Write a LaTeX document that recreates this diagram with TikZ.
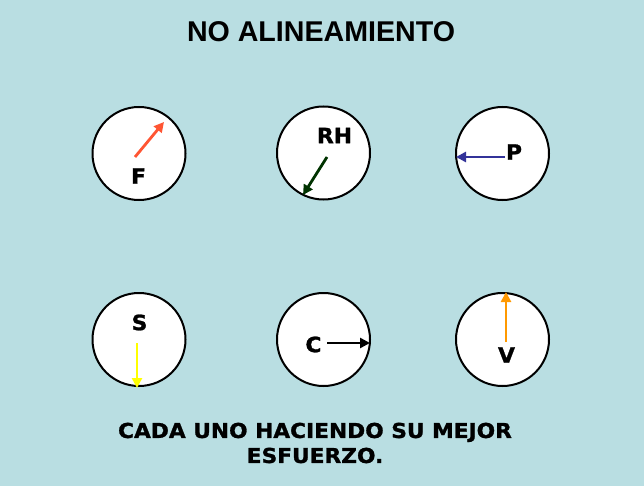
\documentclass[tikz,border=0pt]{standalone}
\usepackage{fontspec}
\setmainfont{DejaVu Sans}[BoldFeatures={FakeBold=1.2}]
\newfontfamily\titlefont{Liberation Sans}
\usetikzlibrary{arrows.meta}
\definecolor{bg}{RGB}{185,222,226}
\definecolor{cF}{RGB}{255,85,51}
\definecolor{cRH}{RGB}{0,51,0}
\definecolor{cP}{RGB}{51,51,153}
\definecolor{cS}{RGB}{255,255,0}
\definecolor{cV}{RGB}{255,153,0}
\begin{document}
\begin{tikzpicture}[x=1pt,y=-1pt,
  ring/.style={circle,draw=black,fill=white,line width=2pt,minimum size=93pt,inner sep=0pt},
  lbl/.style={font=\fontsize{21}{24}\selectfont\bfseries,inner sep=0pt,xscale=1.04},
  vec/.style={line width=2.8pt,-{Triangle[length=10pt,width=10pt]}}]
\fill[bg] (0,0) rectangle (644,486);
\useasboundingbox (0,0) rectangle (644,486);
\node[font=\titlefont\fontsize{28.6}{32}\selectfont\bfseries,inner sep=0pt] (title) at (321,32) {NO ALINEAMIENTO};
\node[ring] (c1) at (139,153.5) {};
\node[ring] (c2) at (323.5,153) {};
\node[ring] (c3) at (502.5,153.5) {};
\node[ring] (c4) at (139,339.5) {};
\node[ring] (c5) at (323.5,339.5) {};
\node[ring] (c6) at (502.5,339.5) {};
% F
\coordinate (f0) at (135,157); \coordinate (f1) at (164,122);
\draw[vec,cF] (f0) -- (f1);
\node[lbl] (lF) at (138.5,176) {F};
% RH
\coordinate (r0) at (327,157); \coordinate (r1) at (303,195);
\draw[vec,cRH] (r0) -- (r1);
\node[lbl] (lRH) at (334.5,135.5) {RH};
% P
\coordinate (p0) at (505,157); \coordinate (p1) at (456,157);
\draw[vec,cP] (p0) -- (p1);
\node[lbl] (lP) at (514,152) {P};
% S
\coordinate (s0) at (137,343); \coordinate (s1) at (137,388);
\draw[vec,cS] (s0) -- (s1);
\node[lbl] (lS) at (139.5,322.5) {S};
% C
\coordinate (k0) at (327,343); \coordinate (k1) at (370,343);
\draw[vec,black] (k0) -- (k1);
\node[lbl] (lC) at (313.5,344.5) {C};
% V
\coordinate (v0) at (506,342); \coordinate (v1) at (506,292);
\draw[vec,cV] (v0) -- (v1);
\node[lbl] (lV) at (506.5,355) {V};
\node[font=\fontsize{20.5}{25}\selectfont\bfseries,align=center,inner sep=0pt,xscale=1.06] (bottom) at (315,443) {CADA UNO HACIENDO SU MEJOR\\ESFUERZO.};
\end{tikzpicture}
\end{document}
